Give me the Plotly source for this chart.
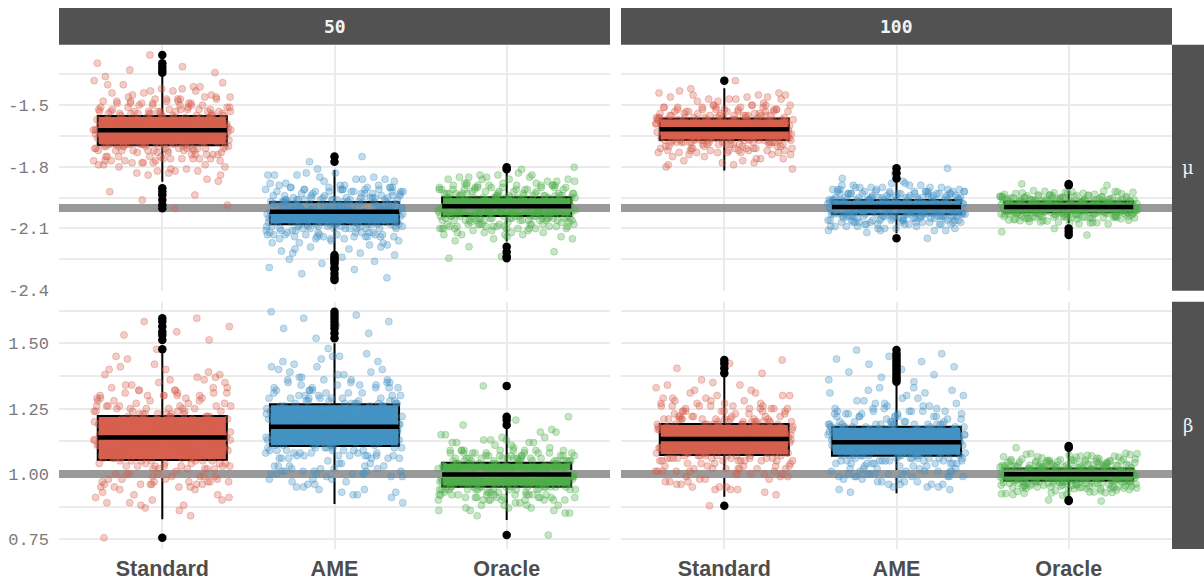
import plotly.graph_objects as go

# ---------------------------------------------------------------- data
categories = ["Standard", "AME", "Oracle"]
sample_sizes = ["50", "100"]
params = ["μ", "β"]
true_mu = -2.0
true_beta = 1.0

mu_ticks = [-2.4, -2.1, -1.8, -1.5]
mu_ticklabels = ["-2.4", "-2.1", "-1.8", "-1.5"]
mu_minor = [-2.25, -1.95, -1.65, -1.35]
beta_ticks = [0.75, 1.00, 1.25, 1.50]
beta_ticklabels = ["0.75", "1.00", "1.25", "1.50"]
beta_minor = [0.875, 1.125, 1.375, 1.625]

# box statistics, in category order (Standard, AME, Oracle)
mu50_q1 = [-1.695, -2.080, -2.039]
mu50_med = [-1.622, -2.018, -1.992]
mu50_q3 = [-1.552, -1.971, -1.948]
mu50_lo = [-1.872, -2.221, -2.164]
mu50_hi = [-1.361, -1.815, -1.830]

mu100_q1 = [-1.669, -2.031, -2.021]
mu100_med = [-1.617, -1.995, -1.995]
mu100_q3 = [-1.565, -1.961, -1.969]
mu100_lo = [-1.818, -2.123, -2.075]
mu100_hi = [-1.417, -1.872, -1.916]

beta50_q1 = [1.053, 1.107, 0.951]
beta50_med = [1.139, 1.181, 0.998]
beta50_q3 = [1.222, 1.267, 1.043]
beta50_lo = [0.826, 0.885, 0.824]
beta50_hi = [1.462, 1.500, 1.175]

beta100_q1 = [1.072, 1.070, 0.974]
beta100_med = [1.134, 1.121, 0.999]
beta100_q3 = [1.191, 1.181, 1.021]
beta100_lo = [0.913, 0.926, 0.913]
beta100_hi = [1.372, 1.340, 1.085]

# outlying estimates
mu50_out = [
    [-1.255, -1.295, -1.312, -1.328, -1.341, -1.904, -1.921, -1.937, -1.961, -1.986, -2.002],
    [-1.750, -1.775, -2.229, -2.24, -2.25, -2.26, -2.27, -2.29, -2.30, -2.32, -2.34, -2.351],
    [-1.802, -1.812, -2.189, -2.213, -2.237, -2.245],
]
mu100_out = [
    [-1.380],
    [-1.807, -1.831, -1.856, -2.148],
    [-1.883, -1.890, -2.100, -2.116, -2.132],
]
beta50_out = [
    [1.596, 1.583, 1.564, 1.544, 1.532, 1.513, 1.477, 0.756],
    [1.621, 1.608, 1.596, 1.583, 1.570, 1.557, 1.538, 1.519],
    [1.337, 1.219, 1.206, 1.187, 0.766],
]
beta100_out = [
    [1.436, 1.423, 1.404, 1.385, 0.878],
    [1.474, 1.46, 1.45, 1.44, 1.43, 1.42, 1.41, 1.40, 1.39, 1.38, 1.37, 1.36, 1.353],
    [1.107, 1.100, 0.896, 0.900],
]

# remaining (non-outlying) replicate estimates
mu50_est = [
    [-1.62, -1.58, -1.69, -1.55, -1.64, -1.75, -1.49, -1.66, -1.71, -1.81,
     -1.60, -1.65, -1.54, -1.72, -1.59, -1.48, -1.63, -1.76, -1.68, -1.43,
     -1.67, -1.61, -1.53, -1.70, -1.57, -1.77, -1.63, -1.51, -1.68, -1.84,
     -1.59, -1.64, -1.56, -1.72, -1.62, -1.47, -1.66, -1.74, -1.53, -1.40,
     -1.63, -1.58, -1.70, -1.55, -1.66, -1.79, -1.50, -1.60, -1.69, -1.45,
     -1.61, -1.67, -1.52, -1.71, -1.58, -1.46, -1.64, -1.77, -1.56, -1.82,
     -1.65, -1.60, -1.73, -1.54, -1.62, -1.49, -1.68, -1.75, -1.57, -1.42,
     -1.58, -1.63, -1.55, -1.69, -1.66, -1.78, -1.51, -1.61, -1.72, -1.86,
     -1.64, -1.59, -1.71, -1.53, -1.60, -1.48, -1.67, -1.76, -1.56, -1.38,
     -1.62, -1.66, -1.54, -1.70, -1.57, -1.74, -1.50, -1.63, -1.68, -1.80,
     -1.60, -1.65, -1.52, -1.72, -1.61, -1.47, -1.69, -1.77, -1.55, -1.44,
     -1.67, -1.58, -1.70, -1.56, -1.63, -1.79, -1.49, -1.59, -1.73, -1.83,
     -1.61, -1.64, -1.53, -1.71, -1.57, -1.46, -1.66, -1.75, -1.54, -1.41,
     -1.63, -1.60, -1.69, -1.55, -1.65, -1.78, -1.51, -1.62, -1.72, -1.87,
     -1.59, -1.67, -1.57, -1.70, -1.62, -1.48, -1.64, -1.76, -1.53, -1.36,
     -1.64, -1.54, -1.60, -1.76, -1.70, -1.58, -1.43, -1.66, -1.70, -1.49,
     -1.61, -1.56, -1.67, -1.74, -1.69, -1.63, -1.82, -1.59, -1.53, -1.47,
     -1.65, -1.52, -1.62, -1.77, -1.72, -1.60, -1.41, -1.64, -1.71, -1.50,
     -1.58, -1.55, -1.66, -1.75, -1.71, -1.62, -1.80, -1.61, -1.54, -1.46,
     -1.63, -1.53, -1.59, -1.78, -1.68, -1.65, -1.44, -1.67, -1.69, -1.51,
     -1.60, -1.57, -1.64, -1.73, -1.70, -1.61, -1.83, -1.58, -1.52, -1.48,
     -1.66, -1.54, -1.62, -1.76, -1.69, -1.59, -1.42, -1.63, -1.72, -1.49,
     -1.59, -1.56, -1.65, -1.74, -1.72, -1.64, -1.81, -1.60, -1.53, -1.47,
     -1.62, -1.52, -1.67, -1.77, -1.71, -1.58, -1.45, -1.65, -1.70, -1.50,
     -1.64, -1.55, -1.61, -1.75, -1.68, -1.63, -1.79, -1.66, -1.54, -1.46,
     -1.60, -1.53, -1.63, -1.78, -1.70, -1.62, -1.40, -1.59, -1.68, -1.48,
     -1.65, -1.57, -1.58, -1.73, -1.72, -1.60, -1.84, -1.64, -1.52, -1.51,
     -1.61, -1.54, -1.66, -1.76, -1.69, -1.65, -1.43, -1.62, -1.71, -1.49,
     -1.63, -1.56, -1.60, -1.74, -1.71, -1.59, -1.82, -1.67, -1.53, -1.47,
     -1.58, -1.52, -1.64, -1.77, -1.70, -1.61, -1.39, -1.63, -1.69, -1.50],
    [-2.02, -1.99, -2.07, -1.96, -2.04, -2.12, -1.92, -2.05, -2.09, -2.17,
     -2.00, -2.04, -1.97, -2.10, -2.01, -1.91, -2.03, -2.13, -2.07, -1.88,
     -2.05, -2.01, -1.95, -2.08, -1.99, -2.14, -2.03, -1.93, -2.06, -2.20,
     -2.00, -2.03, -1.98, -2.09, -2.02, -1.90, -2.05, -2.12, -1.95, -1.85,
     -2.03, -1.99, -2.08, -1.96, -2.04, -2.15, -1.93, -2.01, -2.07, -1.89,
     -2.01, -2.05, -1.94, -2.09, -1.99, -1.91, -2.03, -2.13, -1.97, -2.18,
     -2.04, -2.00, -2.10, -1.96, -2.02, -1.92, -2.06, -2.12, -1.98, -1.87,
     -1.99, -2.03, -1.97, -2.07, -2.05, -2.14, -1.93, -2.01, -2.10, -2.21,
     -2.03, -2.00, -2.08, -1.95, -2.01, -1.91, -2.05, -2.13, -1.97, -1.83,
     -2.02, -2.05, -1.96, -2.08, -1.99, -2.11, -1.92, -2.03, -2.06, -2.16,
     -2.00, -2.04, -1.94, -2.10, -2.02, -1.90, -2.07, -2.14, -1.97, -1.86,
     -2.05, -1.99, -2.08, -1.97, -2.03, -2.15, -1.92, -2.00, -2.11, -2.19,
     -2.01, -2.04, -1.95, -2.09, -1.98, -1.91, -2.05, -2.12, -1.96, -1.84,
     -2.03, -2.00, -2.07, -1.96, -2.04, -2.14, -1.93, -2.02, -2.10, -2.22,
     -1.99, -2.05, -1.98, -2.08, -2.02, -1.90, -2.04, -2.13, -1.95, -1.81,
     -2.03, -1.96, -2.00, -2.13, -2.08, -2.04, -1.86, -2.01, -2.09, -1.91,
     -2.00, -1.95, -2.05, -2.12, -2.07, -2.02, -2.18, -1.99, -1.97, -1.90,
     -2.04, -1.94, -2.01, -2.14, -2.10, -1.99, -1.84, -2.03, -2.08, -1.92,
     -1.99, -1.97, -2.05, -2.13, -2.09, -2.02, -2.17, -2.00, -1.96, -1.89,
     -2.02, -1.95, -1.98, -2.15, -2.07, -2.04, -1.87, -2.05, -2.10, -1.91,
     -2.01, -1.96, -2.03, -2.12, -2.08, -2.00, -2.20, -1.99, -1.94, -1.90,
     -2.05, -1.93, -2.02, -2.14, -2.09, -1.98, -1.85, -2.03, -2.07, -1.92,
     -2.00, -1.97, -2.04, -2.11, -2.10, -2.03, -2.16, -2.01, -1.95, -1.89,
     -2.02, -1.94, -2.05, -2.13, -2.08, -1.99, -1.88, -2.04, -2.09, -1.91,
     -2.03, -1.96, -2.00, -2.15, -2.07, -2.02, -2.19, -2.05, -1.97, -1.90,
     -1.99, -1.95, -2.02, -2.12, -2.10, -2.01, -1.83, -2.00, -2.08, -1.92,
     -2.04, -1.97, -1.98, -2.14, -2.09, -2.03, -2.22, -2.02, -1.94, -1.89,
     -2.01, -1.93, -2.05, -2.13, -2.07, -2.00, -1.86, -2.03, -2.10, -1.91,
     -2.02, -1.96, -2.01, -2.11, -2.08, -1.99, -2.17, -2.04, -1.96, -1.90,
     -2.00, -1.94, -2.03, -2.14, -2.09, -2.02, -1.84, -2.01, -2.07, -1.92],
    [-1.99, -1.96, -2.04, -1.93, -2.01, -2.08, -1.90, -2.02, -2.05, -2.12,
     -1.97, -2.01, -1.95, -2.06, -1.98, -1.89, -2.00, -2.09, -2.04, -1.86,
     -2.02, -1.98, -1.93, -2.05, -1.97, -2.10, -2.00, -1.91, -2.03, -2.14,
     -1.97, -2.00, -1.96, -2.06, -1.99, -1.88, -2.02, -2.08, -1.93, -1.84,
     -2.00, -1.97, -2.05, -1.94, -2.01, -2.11, -1.91, -1.98, -2.04, -1.87,
     -1.98, -2.02, -1.92, -2.06, -1.97, -1.89, -2.01, -2.09, -1.95, -2.13,
     -2.01, -1.98, -2.07, -1.94, -1.99, -1.90, -2.03, -2.08, -1.96, -1.85,
     -1.97, -2.00, -1.95, -2.04, -2.02, -2.10, -1.92, -1.99, -2.06, -2.15,
     -2.00, -1.97, -2.05, -1.93, -1.98, -1.89, -2.02, -2.09, -1.95, -1.83,
     -1.99, -2.02, -1.94, -2.05, -1.97, -2.08, -1.91, -2.00, -2.03, -2.12,
     -1.98, -2.01, -1.93, -2.07, -2.00, -1.88, -2.04, -2.10, -1.95, -1.86,
     -2.02, -1.97, -2.05, -1.95, -2.00, -2.11, -1.90, -1.98, -2.07, -2.16,
     -1.98, -2.01, -1.93, -2.06, -1.96, -1.89, -2.02, -2.08, -1.94, -1.84,
     -2.00, -1.98, -2.04, -1.94, -2.01, -2.10, -1.91, -1.99, -2.06, -2.13,
     -1.97, -2.02, -1.96, -2.05, -1.99, -1.88, -2.01, -2.09, -1.93, -1.85,
     -2.00, -1.94, -1.97, -2.09, -2.05, -2.01, -1.87, -1.98, -2.06, -1.90,
     -1.98, -1.93, -2.02, -2.08, -2.04, -1.99, -2.13, -1.97, -1.95, -1.91,
     -2.01, -1.95, -1.96, -2.10, -2.06, -2.00, -1.85, -2.02, -2.04, -1.89,
     -1.97, -1.92, -2.03, -2.08, -2.05, -1.98, -2.12, -2.00, -1.94, -1.90,
     -2.02, -1.94, -1.99, -2.09, -2.04, -1.97, -1.88, -2.01, -2.07, -1.91,
     -1.99, -1.95, -2.01, -2.10, -2.06, -2.02, -2.14, -1.96, -1.93, -1.89,
     -2.00, -1.93, -1.98, -2.08, -2.05, -2.01, -1.86, -1.99, -2.05, -1.90,
     -1.97, -1.94, -2.02, -2.09, -2.04, -1.98, -2.11, -2.00, -1.95, -1.91,
     -2.01, -1.92, -1.99, -2.10, -2.06, -1.97, -1.84, -2.02, -2.04, -1.89,
     -1.98, -1.95, -2.00, -2.08, -2.05, -2.01, -2.13, -1.99, -1.94, -1.90,
     -2.02, -1.93, -1.97, -2.09, -2.04, -2.00, -1.87, -1.98, -2.06, -1.91,
     -1.99, -1.94, -2.01, -2.10, -2.06, -1.97, -2.15, -2.02, -1.93, -1.89,
     -2.00, -1.95, -1.98, -2.08, -2.05, -2.01, -1.85, -1.99, -2.05, -1.90,
     -1.97, -1.92, -2.02, -2.09, -2.04, -2.00, -2.12, -1.98, -1.95, -1.91,
     -2.01, -1.94, -1.99, -2.10, -2.06, -1.98, -1.86, -2.00, -2.04, -1.89],
]
mu100_est = [
    [-1.62, -1.59, -1.66, -1.56, -1.64, -1.71, -1.52, -1.63, -1.68, -1.76,
     -1.60, -1.64, -1.57, -1.68, -1.61, -1.51, -1.63, -1.72, -1.66, -1.47,
     -1.65, -1.61, -1.55, -1.67, -1.59, -1.73, -1.62, -1.53, -1.66, -1.79,
     -1.60, -1.63, -1.58, -1.69, -1.62, -1.50, -1.64, -1.71, -1.55, -1.45,
     -1.63, -1.59, -1.67, -1.56, -1.64, -1.74, -1.53, -1.61, -1.68, -1.48,
     -1.61, -1.65, -1.54, -1.69, -1.59, -1.51, -1.63, -1.72, -1.57, -1.77,
     -1.64, -1.60, -1.68, -1.55, -1.62, -1.52, -1.66, -1.71, -1.58, -1.46,
     -1.59, -1.63, -1.57, -1.67, -1.65, -1.73, -1.53, -1.61, -1.69, -1.81,
     -1.63, -1.60, -1.68, -1.55, -1.61, -1.50, -1.65, -1.72, -1.57, -1.43,
     -1.62, -1.65, -1.56, -1.67, -1.59, -1.70, -1.52, -1.63, -1.66, -1.75,
     -1.60, -1.64, -1.54, -1.69, -1.62, -1.51, -1.67, -1.73, -1.57, -1.47,
     -1.65, -1.59, -1.68, -1.56, -1.63, -1.74, -1.52, -1.60, -1.70, -1.78,
     -1.61, -1.64, -1.55, -1.68, -1.58, -1.50, -1.66, -1.71, -1.56, -1.44,
     -1.63, -1.60, -1.67, -1.57, -1.64, -1.72, -1.53, -1.62, -1.69, -1.80,
     -1.59, -1.65, -1.58, -1.67, -1.62, -1.49, -1.64, -1.73, -1.55, -1.42,
     -1.63, -1.56, -1.60, -1.71, -1.67, -1.62, -1.47, -1.59, -1.68, -1.52,
     -1.61, -1.55, -1.64, -1.70, -1.66, -1.60, -1.76, -1.58, -1.57, -1.51,
     -1.64, -1.57, -1.59, -1.72, -1.68, -1.63, -1.45, -1.61, -1.67, -1.53,
     -1.60, -1.54, -1.65, -1.71, -1.66, -1.62, -1.75, -1.59, -1.56, -1.50,
     -1.62, -1.56, -1.58, -1.73, -1.67, -1.64, -1.48, -1.63, -1.69, -1.52,
     -1.59, -1.55, -1.63, -1.70, -1.68, -1.61, -1.78, -1.60, -1.54, -1.51,
     -1.65, -1.57, -1.61, -1.72, -1.66, -1.59, -1.46, -1.62, -1.67, -1.53,
     -1.60, -1.54, -1.64, -1.71, -1.69, -1.63, -1.74, -1.58, -1.57, -1.50,
     -1.62, -1.56, -1.65, -1.73, -1.67, -1.60, -1.44, -1.64, -1.68, -1.52,
     -1.63, -1.55, -1.59, -1.70, -1.66, -1.62, -1.77, -1.61, -1.56, -1.51,
     -1.61, -1.57, -1.62, -1.72, -1.68, -1.64, -1.47, -1.59, -1.66, -1.53,
     -1.64, -1.54, -1.60, -1.71, -1.67, -1.58, -1.79, -1.63, -1.55, -1.50,
     -1.59, -1.56, -1.65, -1.73, -1.69, -1.61, -1.45, -1.62, -1.67, -1.52,
     -1.62, -1.55, -1.63, -1.70, -1.66, -1.60, -1.76, -1.64, -1.57, -1.51,
     -1.60, -1.57, -1.61, -1.72, -1.68, -1.63, -1.46, -1.58, -1.69, -1.53],
    [-2.00, -1.98, -2.03, -1.95, -2.01, -2.06, -1.93, -2.02, -2.04, -2.09,
     -1.98, -2.01, -1.96, -2.04, -1.99, -1.92, -2.00, -2.07, -2.03, -1.90,
     -2.02, -1.99, -1.95, -2.04, -1.98, -2.07, -2.00, -1.93, -2.03, -2.11,
     -1.98, -2.00, -1.97, -2.05, -1.99, -1.91, -2.01, -2.06, -1.95, -1.88,
     -2.01, -1.98, -2.04, -1.96, -2.00, -2.08, -1.93, -1.99, -2.03, -1.90,
     -1.99, -2.02, -1.94, -2.05, -1.98, -1.92, -2.01, -2.07, -1.96, -2.10,
     -2.01, -1.99, -2.05, -1.95, -2.00, -1.93, -2.02, -2.06, -1.97, -1.89,
     -1.98, -2.00, -1.96, -2.03, -2.02, -2.08, -1.94, -1.99, -2.05, -2.12,
     -2.00, -1.98, -2.04, -1.95, -1.99, -1.92, -2.02, -2.07, -1.96, -1.88,
     -1.99, -2.02, -1.95, -2.04, -1.98, -2.06, -1.93, -2.00, -2.03, -2.09,
     -1.98, -2.01, -1.94, -2.05, -2.00, -1.91, -2.03, -2.08, -1.96, -1.90,
     -2.02, -1.98, -2.04, -1.96, -2.00, -2.07, -1.93, -1.99, -2.05, -2.11,
     -1.99, -2.01, -1.95, -2.04, -1.97, -1.92, -2.02, -2.06, -1.95, -1.89,
     -2.00, -1.99, -2.03, -1.96, -2.01, -2.08, -1.93, -2.00, -2.05, -2.10,
     -1.98, -2.02, -1.97, -2.04, -2.00, -1.91, -2.01, -2.07, -1.94, -1.87,
     -2.01, -1.96, -1.99, -2.06, -2.03, -2.00, -1.91, -1.98, -2.04, -1.93,
     -1.99, -1.95, -2.02, -2.07, -2.04, -1.98, -2.09, -2.00, -1.96, -1.92,
     -2.00, -1.96, -1.97, -2.06, -2.03, -2.01, -1.90, -1.99, -2.05, -1.93,
     -1.98, -1.94, -2.01, -2.08, -2.04, -2.00, -2.10, -1.97, -1.95, -1.92,
     -2.02, -1.96, -1.99, -2.07, -2.03, -1.98, -1.89, -2.01, -2.04, -1.93,
     -1.99, -1.95, -2.00, -2.06, -2.05, -2.02, -2.11, -1.98, -1.96, -1.92,
     -2.01, -1.94, -1.98, -2.07, -2.03, -1.99, -1.91, -2.00, -2.04, -1.93,
     -1.97, -1.96, -2.02, -2.08, -2.04, -2.01, -2.09, -1.99, -1.95, -1.92,
     -2.00, -1.95, -1.99, -2.06, -2.03, -1.98, -1.90, -2.02, -2.05, -1.93,
     -1.98, -1.96, -2.01, -2.07, -2.04, -2.00, -2.10, -1.97, -1.94, -1.92,
     -2.02, -1.95, -1.98, -2.08, -2.03, -1.99, -1.89, -2.00, -2.04, -1.93,
     -1.99, -1.94, -2.00, -2.06, -2.05, -2.01, -2.11, -1.98, -1.96, -1.92,
     -2.01, -1.96, -1.97, -2.07, -2.04, -2.00, -1.91, -1.99, -2.03, -1.93,
     -1.98, -1.95, -2.02, -2.08, -2.03, -1.98, -2.09, -2.01, -1.95, -1.92,
     -2.00, -1.96, -1.99, -2.06, -2.04, -2.02, -1.90, -1.97, -2.05, -1.93],
    [-1.995, -1.982, -2.012, -1.966, -2.004, -2.043, -1.951, -2.008, -2.028, -2.062,
     -1.988, -2.006, -1.972, -2.026, -1.991, -1.944, -2.001, -2.047, -2.019, -1.929,
     -2.010, -1.993, -1.962, -2.024, -1.984, -2.051, -1.999, -1.953, -2.017, -2.071,
     -1.986, -2.002, -1.977, -2.031, -1.994, -1.940, -2.009, -2.045, -1.961, -1.922,
     -2.005, -1.987, -2.022, -1.968, -2.000, -2.054, -1.948, -1.990, -2.016, -1.933,
     -1.992, -2.011, -1.958, -2.033, -1.985, -1.946, -2.003, -2.049, -1.970, -2.066,
     -2.007, -1.989, -2.029, -1.964, -1.997, -1.950, -2.013, -2.040, -1.974, -1.926,
     -1.983, -2.000, -1.971, -2.020, -2.014, -2.057, -1.955, -1.992, -2.036, -2.076,
     -2.003, -1.986, -2.025, -1.960, -1.990, -1.942, -2.011, -2.048, -1.967, -1.918,
     -1.996, -2.012, -1.963, -2.023, -1.981, -2.041, -1.952, -2.001, -2.018, -2.060,
     -1.989, -2.006, -1.959, -2.034, -1.998, -1.938, -2.021, -2.053, -1.969, -1.930,
     -2.009, -1.984, -2.027, -1.973, -2.002, -2.046, -1.949, -1.993, -2.032, -2.069,
     -1.991, -2.008, -1.961, -2.026, -1.979, -1.945, -2.014, -2.042, -1.965, -1.924,
     -2.001, -1.987, -2.019, -1.970, -2.006, -2.050, -1.954, -1.997, -2.030, -2.073,
     -1.985, -2.010, -1.976, -2.024, -1.994, -1.937, -2.004, -2.044, -1.957, -1.920,
     -2.004, -1.968, -1.987, -2.043, -2.024, -2.009, -1.927, -1.981, -2.031, -1.948,
     -1.993, -1.962, -2.011, -2.039, -2.020, -1.990, -2.064, -1.978, -1.971, -1.941,
     -2.008, -1.966, -1.984, -2.050, -2.028, -1.997, -1.921, -2.013, -2.019, -1.952,
     -1.979, -1.958, -2.006, -2.046, -2.033, -2.002, -2.072, -1.988, -1.963, -1.939,
     -2.012, -1.969, -1.992, -2.041, -2.022, -1.983, -1.931, -2.007, -2.027, -1.946,
     -1.986, -1.960, -2.014, -2.052, -2.018, -1.999, -2.059, -1.977, -1.967, -1.944,
     -2.002, -1.964, -1.980, -2.044, -2.030, -2.010, -1.916, -1.994, -2.025, -1.950,
     -1.990, -1.957, -2.005, -2.037, -2.026, -1.985, -2.068, -2.011, -1.973, -1.937,
     -2.013, -1.965, -1.988, -2.048, -2.021, -1.996, -1.929, -1.982, -2.034, -1.947,
     -1.981, -1.961, -2.009, -2.042, -2.032, -2.003, -2.078, -1.989, -1.959, -1.940,
     -2.006, -1.967, -1.991, -2.054, -2.017, -1.978, -1.924, -2.015, -2.023, -1.951,
     -1.997, -1.956, -2.003, -2.039, -2.029, -1.987, -2.062, -1.976, -1.969, -1.943,
     -2.010, -1.963, -1.985, -2.045, -2.020, -2.001, -1.919, -1.993, -2.030, -1.949,
     -1.984, -1.959, -2.012, -2.049, -2.027, -1.995, -2.070, -2.008, -1.965, -1.938,
     -2.001, -1.968, -1.989, -2.040, -2.024, -1.980, -1.933, -2.004, -2.021, -1.945],
]
beta50_est = [
    [1.14, 1.10, 1.19, 1.05, 1.16, 0.99, 1.30, 1.12, 1.24, 0.92,
     1.12, 1.17, 1.09, 1.23, 1.13, 1.31, 1.08, 0.97, 1.20, 1.38,
     1.18, 1.11, 1.03, 1.22, 1.15, 0.96, 1.13, 1.29, 1.06, 0.89,
     1.10, 1.16, 1.08, 1.25, 1.14, 1.33, 1.11, 0.98, 1.02, 1.42,
     1.15, 1.09, 1.21, 1.04, 1.17, 0.95, 1.28, 1.12, 1.24, 0.86,
     1.13, 1.19, 1.02, 1.26, 1.10, 1.32, 1.15, 0.99, 1.07, 1.36,
     1.17, 1.11, 1.23, 1.05, 1.14, 1.30, 1.18, 0.96, 1.08, 0.91,
     1.09, 1.15, 1.07, 1.21, 1.18, 0.97, 1.27, 1.12, 1.25, 1.45,
     1.16, 1.12, 1.24, 1.03, 1.11, 1.31, 1.17, 0.98, 1.06, 0.88,
     1.14, 1.18, 1.06, 1.22, 1.10, 0.95, 1.29, 1.15, 1.20, 1.40,
     1.12, 1.16, 1.04, 1.26, 1.13, 1.34, 1.19, 1.00, 1.08, 0.84,
     1.18, 1.10, 1.22, 1.07, 1.15, 0.96, 1.28, 1.11, 1.25, 1.37,
     1.13, 1.17, 1.05, 1.23, 1.09, 1.32, 1.16, 0.97, 1.03, 0.93,
     1.15, 1.11, 1.20, 1.08, 1.17, 0.99, 1.30, 1.13, 1.26, 1.44,
     1.10, 1.19, 1.09, 1.21, 1.14, 1.35, 1.12, 0.94, 1.02, 0.90,
     1.15, 1.24, 1.11, 0.98, 1.04, 1.18, 1.37, 1.09, 1.03, 1.30,
     1.12, 1.22, 1.17, 0.96, 1.06, 1.13, 0.90, 1.19, 1.25, 1.29,
     1.16, 1.26, 1.10, 1.00, 1.02, 1.14, 1.40, 1.17, 1.05, 1.31,
     1.11, 1.21, 1.19, 0.97, 1.07, 1.15, 0.92, 1.12, 1.23, 1.28,
     1.18, 1.25, 1.13, 0.95, 1.03, 1.10, 1.35, 1.16, 1.04, 1.32,
     1.14, 1.23, 1.08, 0.99, 1.05, 1.19, 0.88, 1.11, 1.26, 1.30,
     1.17, 1.20, 1.12, 0.97, 1.01, 1.15, 1.39, 1.13, 1.06, 1.27,
     1.10, 1.24, 1.16, 1.00, 1.07, 1.12, 0.91, 1.18, 1.22, 1.33,
     1.15, 1.26, 1.09, 0.96, 1.04, 1.17, 1.41, 1.14, 1.02, 1.29,
     1.13, 1.21, 1.18, 0.98, 1.06, 1.11, 0.87, 1.16, 1.24, 1.31,
     1.19, 1.23, 1.12, 0.95, 1.03, 1.14, 1.36, 1.10, 1.05, 1.28,
     1.11, 1.25, 1.15, 0.99, 1.07, 1.18, 0.94, 1.13, 1.21, 1.32,
     1.16, 1.22, 1.10, 0.97, 1.02, 1.12, 1.38, 1.17, 1.06, 1.30,
     1.12, 1.20, 1.17, 1.00, 1.05, 1.15, 0.89, 1.19, 1.23, 1.27,
     1.14, 1.26, 1.13, 0.96, 1.04, 1.09, 1.34, 1.11, 1.03, 1.33],
    [1.18, 1.14, 1.23, 1.09, 1.20, 1.03, 1.33, 1.16, 1.27, 0.97,
     1.16, 1.21, 1.13, 1.27, 1.17, 1.35, 1.12, 1.01, 1.24, 1.41,
     1.22, 1.15, 1.07, 1.26, 1.19, 1.00, 1.17, 1.32, 1.10, 0.93,
     1.14, 1.20, 1.12, 1.29, 1.18, 1.37, 1.15, 1.02, 1.06, 1.46,
     1.19, 1.13, 1.25, 1.08, 1.21, 0.99, 1.31, 1.16, 1.28, 0.91,
     1.17, 1.23, 1.06, 1.30, 1.14, 1.36, 1.19, 1.03, 1.11, 1.40,
     1.21, 1.15, 1.27, 1.09, 1.18, 1.34, 1.22, 1.00, 1.12, 0.95,
     1.13, 1.19, 1.11, 1.25, 1.22, 1.01, 1.31, 1.16, 1.29, 1.48,
     1.20, 1.16, 1.28, 1.07, 1.15, 1.35, 1.21, 1.02, 1.10, 0.92,
     1.18, 1.22, 1.10, 1.26, 1.14, 0.98, 1.33, 1.19, 1.24, 1.43,
     1.16, 1.20, 1.08, 1.30, 1.17, 1.38, 1.23, 1.04, 1.12, 0.89,
     1.22, 1.14, 1.26, 1.11, 1.19, 1.00, 1.32, 1.15, 1.29, 1.39,
     1.17, 1.21, 1.09, 1.27, 1.13, 1.36, 1.20, 1.01, 1.07, 0.96,
     1.19, 1.15, 1.24, 1.12, 1.21, 1.03, 1.34, 1.17, 1.30, 1.45,
     1.14, 1.23, 1.13, 1.25, 1.18, 1.37, 1.16, 0.98, 1.06, 0.94,
     1.19, 1.27, 1.15, 1.02, 1.08, 1.22, 1.41, 1.13, 1.07, 1.33,
     1.16, 1.26, 1.21, 1.00, 1.10, 1.17, 0.95, 1.23, 1.28, 1.32,
     1.20, 1.29, 1.14, 1.04, 1.06, 1.18, 1.44, 1.21, 1.09, 1.34,
     1.15, 1.25, 1.23, 1.01, 1.11, 1.19, 0.97, 1.16, 1.27, 1.31,
     1.22, 1.28, 1.17, 0.99, 1.07, 1.14, 1.39, 1.20, 1.08, 1.35,
     1.18, 1.26, 1.12, 1.03, 1.09, 1.23, 0.93, 1.15, 1.29, 1.33,
     1.21, 1.24, 1.16, 1.01, 1.06, 1.19, 1.43, 1.17, 1.10, 1.30,
     1.14, 1.27, 1.20, 1.05, 1.11, 1.16, 0.96, 1.22, 1.25, 1.36,
     1.19, 1.29, 1.13, 1.00, 1.08, 1.21, 1.45, 1.18, 1.07, 1.32,
     1.17, 1.25, 1.22, 1.02, 1.10, 1.15, 0.92, 1.20, 1.28, 1.34,
     1.23, 1.26, 1.16, 0.99, 1.07, 1.18, 1.40, 1.14, 1.09, 1.31,
     1.15, 1.28, 1.19, 1.03, 1.11, 1.22, 0.98, 1.17, 1.24, 1.35,
     1.20, 1.25, 1.14, 1.01, 1.06, 1.16, 1.42, 1.21, 1.10, 1.33,
     1.16, 1.24, 1.21, 1.04, 1.09, 1.19, 0.94, 1.23, 1.27, 1.30,
     1.18, 1.29, 1.17, 1.00, 1.08, 1.13, 1.38, 1.15, 1.07, 1.36],
    [1.00, 0.98, 1.02, 0.95, 1.01, 0.92, 1.08, 0.99, 1.05, 0.88,
     0.98, 1.01, 0.97, 1.05, 0.99, 1.09, 0.97, 0.91, 1.03, 1.12,
     1.02, 0.98, 0.94, 1.04, 1.00, 0.90, 0.99, 1.07, 0.96, 0.86,
     0.97, 1.01, 0.96, 1.06, 1.00, 1.10, 0.98, 0.92, 0.94, 1.15,
     1.01, 0.97, 1.03, 0.95, 1.02, 0.91, 1.07, 0.99, 1.05, 0.87,
     0.99, 1.02, 0.94, 1.06, 0.97, 1.09, 1.01, 0.92, 0.96, 1.13,
     1.02, 0.98, 1.04, 0.95, 1.00, 1.08, 1.02, 0.90, 0.96, 0.89,
     0.97, 1.00, 0.96, 1.03, 1.02, 0.91, 1.07, 0.99, 1.06, 1.16,
     1.01, 0.99, 1.05, 0.94, 0.98, 1.09, 1.01, 0.92, 0.95, 0.85,
     1.00, 1.02, 0.95, 1.04, 0.97, 0.90, 1.08, 1.00, 1.03, 1.12,
     0.98, 1.01, 0.94, 1.06, 0.99, 1.10, 1.03, 0.93, 0.96, 0.84,
     1.02, 0.97, 1.04, 0.96, 1.00, 0.91, 1.07, 0.98, 1.05, 1.14,
     0.99, 1.01, 0.95, 1.05, 0.97, 1.09, 1.00, 0.92, 0.94, 0.88,
     1.00, 0.98, 1.03, 0.96, 1.02, 0.92, 1.08, 0.99, 1.06, 1.17,
     0.97, 1.02, 0.97, 1.04, 1.00, 1.11, 0.98, 0.90, 0.93, 0.86,
     1.01, 1.05, 0.98, 0.91, 0.95, 1.02, 1.13, 0.99, 0.94, 1.08,
     0.99, 1.04, 1.02, 0.92, 0.94, 0.97, 0.87, 1.01, 1.06, 1.07,
     1.00, 1.06, 0.97, 0.90, 0.96, 1.02, 1.12, 0.99, 0.95, 1.09,
     0.98, 1.03, 1.01, 0.92, 0.93, 1.00, 0.88, 0.97, 1.05, 1.08,
     1.02, 1.05, 0.99, 0.91, 0.95, 0.98, 1.15, 1.01, 0.94, 1.07,
     0.97, 1.04, 1.00, 0.90, 0.94, 1.02, 0.86, 0.99, 1.06, 1.09,
     1.01, 1.03, 0.98, 0.92, 0.96, 1.00, 1.11, 0.97, 0.95, 1.08,
     0.99, 1.06, 1.02, 0.91, 0.93, 0.98, 0.89, 1.01, 1.04, 1.07,
     1.00, 1.05, 0.97, 0.90, 0.95, 1.02, 1.14, 0.99, 0.94, 1.09,
     0.98, 1.04, 1.01, 0.92, 0.94, 0.97, 0.85, 1.00, 1.05, 1.08,
     1.02, 1.03, 0.99, 0.91, 0.96, 1.01, 1.12, 0.98, 0.93, 1.07,
     0.97, 1.06, 1.00, 0.90, 0.94, 1.02, 0.88, 0.99, 1.06, 1.09,
     1.01, 1.05, 0.98, 0.92, 0.95, 0.97, 1.13, 1.00, 0.94, 1.08,
     0.99, 1.04, 1.02, 0.91, 0.93, 1.00, 0.87, 0.98, 1.05, 1.07,
     1.00, 1.03, 0.97, 0.90, 0.96, 1.01, 1.16, 0.99, 0.95, 1.09],
]
beta100_est = [
    [1.13, 1.11, 1.17, 1.07, 1.15, 1.02, 1.25, 1.12, 1.20, 0.97,
     1.12, 1.16, 1.10, 1.21, 1.13, 1.26, 1.09, 1.01, 1.19, 1.31,
     1.17, 1.11, 1.06, 1.20, 1.14, 0.99, 1.13, 1.24, 1.08, 0.94,
     1.10, 1.15, 1.09, 1.22, 1.13, 1.28, 1.12, 1.03, 1.05, 1.34,
     1.14, 1.10, 1.18, 1.06, 1.16, 0.98, 1.23, 1.12, 1.21, 0.93,
     1.12, 1.17, 1.05, 1.22, 1.11, 1.27, 1.15, 1.02, 1.08, 1.30,
     1.16, 1.11, 1.20, 1.07, 1.13, 1.25, 1.17, 1.00, 1.09, 0.96,
     1.10, 1.14, 1.08, 1.19, 1.17, 1.01, 1.24, 1.12, 1.21, 1.36,
     1.15, 1.12, 1.21, 1.06, 1.11, 1.26, 1.16, 1.02, 1.08, 0.95,
     1.13, 1.17, 1.08, 1.20, 1.10, 0.99, 1.25, 1.14, 1.18, 1.32,
     1.12, 1.15, 1.06, 1.22, 1.13, 1.28, 1.18, 1.03, 1.09, 0.92,
     1.17, 1.10, 1.19, 1.09, 1.14, 1.00, 1.24, 1.11, 1.21, 1.29,
     1.13, 1.16, 1.07, 1.20, 1.10, 1.27, 1.15, 1.01, 1.05, 0.97,
     1.14, 1.11, 1.18, 1.09, 1.16, 1.02, 1.26, 1.13, 1.22, 1.35,
     1.10, 1.17, 1.10, 1.19, 1.13, 1.29, 1.12, 0.98, 1.04, 0.94,
     1.14, 1.20, 1.11, 1.03, 1.07, 1.16, 1.30, 1.10, 1.06, 1.24,
     1.12, 1.19, 1.16, 1.01, 1.08, 1.13, 0.97, 1.17, 1.21, 1.25,
     1.15, 1.21, 1.10, 1.04, 1.05, 1.14, 1.32, 1.16, 1.07, 1.23,
     1.11, 1.19, 1.17, 1.02, 1.08, 1.15, 0.95, 1.12, 1.20, 1.26,
     1.16, 1.22, 1.12, 1.00, 1.06, 1.10, 1.28, 1.15, 1.05, 1.24,
     1.13, 1.20, 1.09, 1.03, 1.07, 1.17, 0.98, 1.11, 1.21, 1.23,
     1.15, 1.18, 1.13, 1.01, 1.05, 1.14, 1.33, 1.12, 1.08, 1.25,
     1.10, 1.21, 1.16, 1.04, 1.08, 1.12, 0.96, 1.17, 1.19, 1.27,
     1.14, 1.22, 1.11, 1.02, 1.06, 1.15, 1.29, 1.13, 1.05, 1.24,
     1.12, 1.19, 1.17, 1.00, 1.07, 1.10, 0.94, 1.16, 1.20, 1.26,
     1.17, 1.20, 1.12, 1.03, 1.05, 1.14, 1.31, 1.11, 1.08, 1.23,
     1.11, 1.21, 1.15, 1.01, 1.08, 1.16, 0.99, 1.13, 1.19, 1.25,
     1.15, 1.18, 1.10, 1.04, 1.06, 1.12, 1.34, 1.16, 1.07, 1.24,
     1.13, 1.22, 1.16, 1.02, 1.05, 1.14, 0.95, 1.17, 1.21, 1.26,
     1.14, 1.19, 1.12, 1.00, 1.07, 1.10, 1.30, 1.11, 1.06, 1.27],
    [1.12, 1.10, 1.16, 1.06, 1.14, 1.01, 1.23, 1.11, 1.18, 0.97,
     1.11, 1.15, 1.09, 1.19, 1.12, 1.24, 1.08, 1.00, 1.17, 1.29,
     1.16, 1.10, 1.05, 1.19, 1.13, 0.98, 1.12, 1.22, 1.07, 0.95,
     1.09, 1.14, 1.08, 1.20, 1.12, 1.26, 1.11, 1.02, 1.04, 1.32,
     1.13, 1.09, 1.17, 1.05, 1.15, 0.99, 1.22, 1.11, 1.19, 0.94,
     1.11, 1.16, 1.04, 1.20, 1.10, 1.25, 1.14, 1.01, 1.07, 1.28,
     1.15, 1.10, 1.18, 1.06, 1.12, 1.23, 1.16, 0.99, 1.08, 0.96,
     1.09, 1.13, 1.07, 1.17, 1.16, 1.00, 1.22, 1.11, 1.19, 1.33,
     1.14, 1.11, 1.19, 1.05, 1.10, 1.24, 1.15, 1.01, 1.07, 0.95,
     1.12, 1.16, 1.07, 1.18, 1.09, 0.98, 1.23, 1.13, 1.17, 1.30,
     1.11, 1.14, 1.05, 1.20, 1.12, 1.26, 1.17, 1.02, 1.08, 0.93,
     1.16, 1.09, 1.18, 1.08, 1.13, 0.99, 1.22, 1.10, 1.19, 1.27,
     1.12, 1.15, 1.06, 1.19, 1.09, 1.25, 1.14, 1.00, 1.04, 0.96,
     1.13, 1.10, 1.17, 1.08, 1.15, 1.01, 1.24, 1.12, 1.20, 1.31,
     1.09, 1.16, 1.09, 1.18, 1.12, 1.27, 1.11, 0.97, 1.03, 0.94,
     1.13, 1.18, 1.10, 1.02, 1.06, 1.15, 1.28, 1.09, 1.05, 1.22,
     1.11, 1.17, 1.15, 1.00, 1.07, 1.12, 0.97, 1.16, 1.19, 1.23,
     1.14, 1.19, 1.09, 1.03, 1.04, 1.13, 1.30, 1.15, 1.06, 1.21,
     1.10, 1.17, 1.16, 1.01, 1.07, 1.14, 0.96, 1.11, 1.18, 1.24,
     1.15, 1.20, 1.11, 0.99, 1.05, 1.09, 1.27, 1.14, 1.04, 1.22,
     1.12, 1.18, 1.08, 1.02, 1.06, 1.16, 0.98, 1.10, 1.19, 1.21,
     1.14, 1.16, 1.12, 1.00, 1.04, 1.13, 1.32, 1.11, 1.07, 1.23,
     1.09, 1.19, 1.15, 1.03, 1.07, 1.11, 0.95, 1.16, 1.17, 1.25,
     1.13, 1.20, 1.10, 1.01, 1.05, 1.14, 1.29, 1.12, 1.04, 1.22,
     1.11, 1.17, 1.16, 0.99, 1.06, 1.09, 0.96, 1.15, 1.18, 1.24,
     1.16, 1.18, 1.11, 1.02, 1.04, 1.13, 1.31, 1.10, 1.07, 1.21,
     1.10, 1.19, 1.14, 1.00, 1.07, 1.15, 0.99, 1.12, 1.17, 1.23,
     1.14, 1.16, 1.09, 1.03, 1.05, 1.11, 1.33, 1.15, 1.06, 1.22,
     1.12, 1.20, 1.15, 1.01, 1.04, 1.13, 0.97, 1.16, 1.19, 1.25,
     1.13, 1.17, 1.11, 0.99, 1.06, 1.09, 1.26, 1.10, 1.05, 1.24],
    [0.999, 0.987, 1.013, 0.968, 1.006, 0.955, 1.047, 0.993, 1.031, 0.931,
     0.991, 1.009, 0.982, 1.028, 0.996, 1.052, 0.984, 0.949, 1.022, 1.068,
     1.011, 0.989, 0.962, 1.026, 1.002, 0.943, 0.995, 1.044, 0.973, 0.924,
     0.985, 1.004, 0.978, 1.034, 0.998, 1.058, 0.990, 0.952, 0.966, 1.075,
     1.007, 0.983, 1.018, 0.970, 1.010, 0.946, 1.042, 0.994, 1.029, 0.927,
     0.993, 1.015, 0.961, 1.033, 0.986, 1.055, 1.008, 0.957, 0.975, 1.064,
     1.012, 0.990, 1.025, 0.967, 1.000, 1.049, 1.014, 0.941, 0.976, 0.935,
     0.984, 1.002, 0.979, 1.021, 1.016, 0.953, 1.045, 0.997, 1.036, 1.079,
     1.005, 0.992, 1.027, 0.964, 0.988, 1.053, 1.009, 0.950, 0.972, 0.921,
     0.997, 1.017, 0.969, 1.024, 0.981, 0.944, 1.048, 1.001, 1.019, 1.066,
     0.989, 1.006, 0.965, 1.035, 0.995, 1.057, 1.020, 0.954, 0.977, 0.918,
     1.014, 0.985, 1.023, 0.974, 1.003, 0.948, 1.043, 0.992, 1.032, 1.071,
     0.994, 1.010, 0.963, 1.030, 0.980, 1.051, 1.004, 0.947, 0.962, 0.929,
     1.001, 0.988, 1.016, 0.971, 1.011, 0.956, 1.046, 0.996, 1.038, 1.077,
     0.983, 1.015, 0.979, 1.027, 0.998, 1.060, 0.991, 0.940, 0.958, 0.926,
     1.004, 1.032, 0.991, 0.953, 0.972, 1.012, 1.071, 0.987, 0.966, 1.047,
     0.995, 1.027, 1.015, 0.948, 0.969, 0.983, 0.931, 1.008, 1.035, 1.052,
     1.009, 1.038, 0.986, 0.957, 0.963, 1.001, 1.064, 0.993, 0.974, 1.044,
     0.982, 1.024, 1.013, 0.945, 0.975, 0.997, 0.925, 1.017, 1.031, 1.056,
     1.016, 1.035, 0.989, 0.951, 0.961, 1.006, 1.078, 0.985, 0.968, 1.049,
     0.990, 1.029, 1.003, 0.959, 0.970, 1.018, 0.936, 0.981, 1.037, 1.042,
     1.007, 1.022, 0.984, 0.943, 0.965, 0.994, 1.068, 1.011, 0.973, 1.054,
     0.998, 1.036, 1.019, 0.955, 0.977, 0.988, 0.928, 1.002, 1.026, 1.046,
     1.013, 1.031, 0.992, 0.947, 0.962, 1.005, 1.074, 0.980, 0.969, 1.051,
     0.986, 1.025, 1.010, 0.950, 0.971, 0.996, 0.933, 1.014, 1.039, 1.043,
     1.002, 1.033, 0.983, 0.958, 0.964, 1.019, 1.061, 0.992, 0.976, 1.057,
     0.994, 1.028, 1.008, 0.944, 0.973, 0.985, 0.922, 1.006, 1.033, 1.045,
     1.011, 1.037, 0.988, 0.952, 0.967, 1.000, 1.069, 0.997, 0.970, 1.053,
     0.981, 1.023, 1.015, 0.946, 0.976, 0.991, 0.938, 1.012, 1.030, 1.048,
     1.005, 1.034, 0.995, 0.954, 0.960, 1.016, 1.066, 0.987, 0.967, 1.050],
]

# ---------------------------------------------------------------- styling
fills = ["#D6604D", "#4393C3", "#4DAF4A"]
points_rgba = ["rgba(214,96,77,{a})", "rgba(67,147,195,{a})", "rgba(77,175,74,{a})"]
POINT_ALPHA = 0.32
STRIP = "#525252"
GRID = "#EBEBEB"
W, H = 1204, 581
BOX_W = 0.75
JITTER = 0.4


def xdom(a, b):
    return [a / W, b / W]


def ydom(top, bottom):
    return [1 - bottom / H, 1 - top / H]


col_dom = [xdom(59, 610), xdom(621, 1172)]
row_dom = [ydom(44.7, 290.7), ydom(301.7, 549)]
row_range = [[-2.403, -1.205], [0.7126, 1.6592]]

panels = [
    # row, col, estimates, outliers, q1, median, q3, lower, upper, truth
    (0, 0, mu50_est, mu50_out, mu50_q1, mu50_med, mu50_q3, mu50_lo, mu50_hi, true_mu),
    (0, 1, mu100_est, mu100_out, mu100_q1, mu100_med, mu100_q3, mu100_lo, mu100_hi, true_mu),
    (1, 0, beta50_est, beta50_out, beta50_q1, beta50_med, beta50_q3, beta50_lo, beta50_hi, true_beta),
    (1, 1, beta100_est, beta100_out, beta100_q1, beta100_med, beta100_q3, beta100_lo, beta100_hi, true_beta),
]

fig = go.Figure()
positions = [1, 2, 3]

for idx, (r, c, est, out, q1, med, q3, lo, hi, truth) in enumerate(panels):
    k = idx + 1
    xa = "x" if k == 1 else f"x{k}"
    ya = "y" if k == 1 else f"y{k}"

    # reference line at the true parameter value
    fig.add_trace(go.Scatter(
        x=[0.4, 3.6], y=[truth, truth], xaxis=xa, yaxis=ya, mode="lines",
        line=dict(color="#999999", width=8), hoverinfo="skip", showlegend=False))

    # jittered replicate estimates
    for g in range(3):
        ys = est[g] + out[g]
        seed = 0.29 * g + 0.17 * idx
        xs = [positions[g] + (((i * 0.6180339887 + seed) % 1.0) - 0.5) * 2 * JITTER
              for i in range(len(ys))]
        col = points_rgba[g].format(a=POINT_ALPHA)
        fig.add_trace(go.Scatter(
            x=xs, y=ys, xaxis=xa, yaxis=ya, mode="markers",
            marker=dict(size=7, color=col, line=dict(color=col, width=1)),
            hoverinfo="skip", showlegend=False))

    # boxplots
    for g in range(3):
        fig.add_trace(go.Box(
            x=[positions[g]], q1=[q1[g]], median=[med[g]], q3=[q3[g]],
            lowerfence=[lo[g]], upperfence=[hi[g]], xaxis=xa, yaxis=ya,
            width=BOX_W, whiskerwidth=0, fillcolor=fills[g],
            line=dict(color="black", width=2), boxpoints=False,
            hoverinfo="skip", showlegend=False))
        fig.add_trace(go.Scatter(
            x=[positions[g] - BOX_W / 2, positions[g] + BOX_W / 2], y=[med[g], med[g]],
            xaxis=xa, yaxis=ya, mode="lines", line=dict(color="black", width=4.5),
            hoverinfo="skip", showlegend=False))
        fig.add_trace(go.Scatter(
            x=[positions[g]] * len(out[g]), y=out[g], xaxis=xa, yaxis=ya, mode="markers",
            marker=dict(size=8.5, color="black"), hoverinfo="skip", showlegend=False))

    ticks = mu_ticks if r == 0 else beta_ticks
    tlabels = mu_ticklabels if r == 0 else beta_ticklabels
    minor = mu_minor if r == 0 else beta_minor
    xkey = "xaxis" if k == 1 else f"xaxis{k}"
    ykey = "yaxis" if k == 1 else f"yaxis{k}"
    fig.layout[xkey] = dict(
        domain=col_dom[c], anchor=ya, range=[0.4, 3.6], tickvals=positions,
        ticktext=categories, showticklabels=(r == 1), ticks="", automargin=False,
        showgrid=True, gridcolor=GRID, gridwidth=2, zeroline=False, showline=False,
        tickfont=dict(family="Liberation Sans", size=21.5, color="#4D4D4D", weight="bold"),
        ticklabelstandoff=4, fixedrange=True)
    fig.layout[ykey] = dict(
        domain=row_dom[r], anchor=xa, range=row_range[r], tickvals=ticks,
        ticktext=tlabels, showticklabels=(c == 0), ticks="", automargin=False,
        showgrid=True, gridcolor=GRID, gridwidth=2, zeroline=False, showline=False,
        minor=dict(tickvals=minor, showgrid=True, gridcolor=GRID, gridwidth=1.5),
        tickfont=dict(family="Liberation Mono", size=17, color="#7A7A7A"),
        ticklabelstandoff=9, fixedrange=True)

# facet strips
shapes = []
annotations = []
for c, label in enumerate(sample_sizes):
    x0, x1 = col_dom[c]
    shapes.append(dict(type="rect", xref="paper", yref="paper", x0=x0, x1=x1,
                       y0=1 - 44.7 / H, y1=1 - 8 / H, fillcolor=STRIP, line=dict(width=0)))
    annotations.append(dict(text=label, xref="paper", yref="paper", x=(x0 + x1) / 2,
                            y=1 - 26.4 / H, xanchor="center", yanchor="middle", showarrow=False,
                            font=dict(family="DejaVu Sans Mono", size=18, color="#F2F2F2",
                                      weight="bold")))
for r, label in enumerate(params):
    y0, y1 = row_dom[r]
    shapes.append(dict(type="rect", xref="paper", yref="paper", x0=1172 / W, x1=1.0,
                       y0=y0, y1=y1, fillcolor=STRIP, line=dict(width=0)))
    annotations.append(dict(text=label, xref="paper", yref="paper", x=1188 / W,
                            y=(y0 + y1) / 2, xanchor="center", yanchor="middle", showarrow=False,
                            font=dict(family="DejaVu Serif", size=18, color="#F2F2F2")))

fig.update_layout(
    width=W, height=H, margin=dict(l=0, r=0, t=0, b=0, autoexpand=False),
    paper_bgcolor="white", plot_bgcolor="white", boxmode="overlay",
    shapes=shapes, annotations=annotations, showlegend=False)

fig.write_html("out.html")
